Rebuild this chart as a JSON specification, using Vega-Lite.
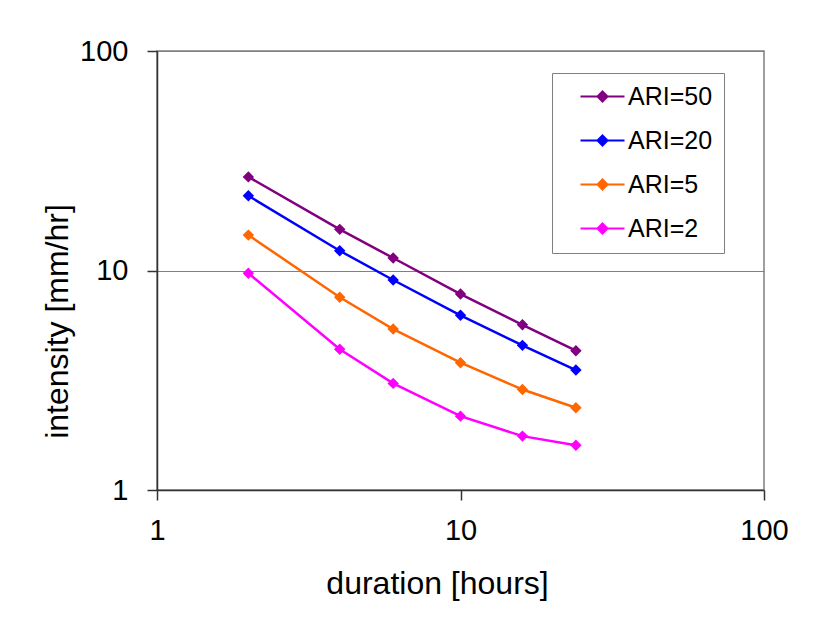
{
  "$schema": "https://vega.github.io/schema/vega-lite/v6.json",
  "width": 607,
  "height": 439,
  "autosize": {"type": "none"},
  "padding": {"left": 157, "top": 51, "right": 69, "bottom": 133},
  "background": "white",
  "data": {
    "values": [
      {"duration": 2, "intensity": 26.7, "series": "ARI=50"},
      {"duration": 4, "intensity": 15.4, "series": "ARI=50"},
      {"duration": 6, "intensity": 11.4, "series": "ARI=50"},
      {"duration": 10, "intensity": 7.81, "series": "ARI=50"},
      {"duration": 16, "intensity": 5.66, "series": "ARI=50"},
      {"duration": 24, "intensity": 4.31, "series": "ARI=50"},
      {"duration": 2, "intensity": 21.9, "series": "ARI=20"},
      {"duration": 4, "intensity": 12.3, "series": "ARI=20"},
      {"duration": 6, "intensity": 9.05, "series": "ARI=20"},
      {"duration": 10, "intensity": 6.25, "series": "ARI=20"},
      {"duration": 16, "intensity": 4.56, "series": "ARI=20"},
      {"duration": 24, "intensity": 3.52, "series": "ARI=20"},
      {"duration": 2, "intensity": 14.5, "series": "ARI=5"},
      {"duration": 4, "intensity": 7.55, "series": "ARI=5"},
      {"duration": 6, "intensity": 5.41, "series": "ARI=5"},
      {"duration": 10, "intensity": 3.8, "series": "ARI=5"},
      {"duration": 16, "intensity": 2.87, "series": "ARI=5"},
      {"duration": 24, "intensity": 2.37, "series": "ARI=5"},
      {"duration": 2, "intensity": 9.71, "series": "ARI=2"},
      {"duration": 4, "intensity": 4.38, "series": "ARI=2"},
      {"duration": 6, "intensity": 3.06, "series": "ARI=2"},
      {"duration": 10, "intensity": 2.17, "series": "ARI=2"},
      {"duration": 16, "intensity": 1.76, "series": "ARI=2"},
      {"duration": 24, "intensity": 1.6, "series": "ARI=2"}
    ]
  },
  "mark": {
    "type": "line",
    "strokeWidth": 2.5,
    "point": {"shape": "diamond", "filled": true, "size": 130, "opacity": 1}
  },
  "encoding": {
    "x": {
      "field": "duration",
      "type": "quantitative",
      "scale": {"type": "log", "domain": [1, 100]},
      "axis": {
        "title": "duration [hours]",
        "values": [1, 10, 100],
        "grid": false,
        "tickSize": 10,
        "labelBaseline": "alphabetic",
        "labelPadding": 39,
        "labelFlush": false,
        "titleX": 280,
        "titleY": 103,
        "titleAlign": "center",
        "titleBaseline": "alphabetic"
      }
    },
    "y": {
      "field": "intensity",
      "type": "quantitative",
      "scale": {"type": "log", "domain": [1, 100]},
      "axis": {
        "title": "intensity [mm/hr]",
        "values": [1, 10, 100],
        "grid": true,
        "tickSize": 10,
        "labelPadding": 19,
        "labelBaseline": "middle",
        "labelFlush": false,
        "titleX": -90,
        "titleY": 270,
        "titleAngle": -90,
        "titleAlign": "center",
        "titleBaseline": "alphabetic"
      }
    },
    "color": {
      "field": "series",
      "type": "nominal",
      "sort": ["ARI=50", "ARI=20", "ARI=5", "ARI=2"],
      "scale": {
        "domain": ["ARI=50", "ARI=20", "ARI=5", "ARI=2"],
        "range": ["#800080", "#0000ff", "#ff6600", "#ff00ff"]
      },
      "legend": {
        "title": null,
        "orient": "none",
        "legendX": 395,
        "legendY": 22,
        "padding": 11,
        "strokeColor": "#808080",
        "fillColor": "white",
        "symbolType": "M0.5,0L4.9,0M2.7,-0.5L3.2,0L2.7,0.5L2.2,0Z",
        "symbolSize": 400,
        "symbolStrokeWidth": 2,
        "rowPadding": 18,
        "labelOffset": 40,
        "labelFontSize": 25,
        "labelFont": "Liberation Sans",
        "labelColor": "black",
        "encode": {
          "symbols": {
            "update": {
              "fill": {"scale": "color", "field": "value"},
              "stroke": {"scale": "color", "field": "value"},
              "opacity": {"value": 1}
            }
          }
        }
      }
    }
  },
  "config": {
    "view": {"stroke": "#808080", "strokeWidth": 1.5},
    "axis": {
      "labelFont": "Liberation Sans",
      "titleFont": "Liberation Sans",
      "labelFontSize": 29,
      "titleFontSize": 32,
      "labelColor": "black",
      "titleColor": "black",
      "titleFontWeight": "normal",
      "domainColor": "#333333",
      "domainWidth": 1.5,
      "tickColor": "#333333",
      "tickWidth": 1.5,
      "gridColor": "#808080",
      "gridWidth": 1.2
    }
  }
}
